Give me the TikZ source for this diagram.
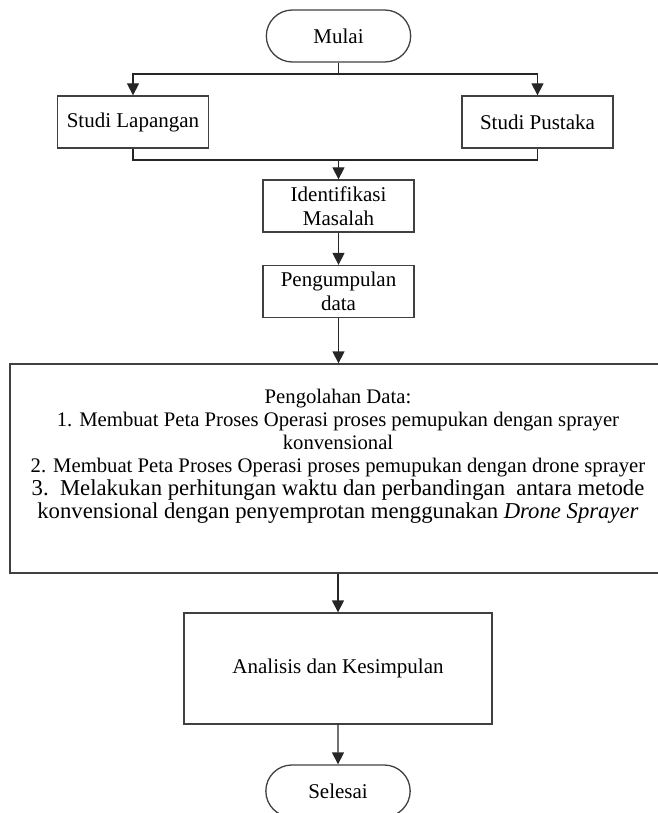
\documentclass[tikz,border=0pt]{standalone}
\usepackage{fontspec}
\setmainfont{Liberation Serif}
\usetikzlibrary{arrows.meta,positioning,shapes.misc}

\begin{document}
\begin{tikzpicture}[
    x=1pt, y=-1pt,
    garis/.style={draw=black!85, line width=1.3pt},
    panah/.style={garis, -{Triangle[width=12pt,length=12pt]}},
    terminal/.style={rounded rectangle, draw=black!75, line width=1.3pt, minimum width=151pt, minimum height=52pt, font=\fontsize{21}{24}\selectfont},
    proses/.style={rectangle, draw=black!75, line width=1.3pt, minimum width=151pt, minimum height=52pt, align=center, inner sep=0pt, font=\fontsize{21}{24}\selectfont}
]
\useasboundingbox (0,0) rectangle (657,813);

\node[terminal] (mulai) at (338.5,36) {Mulai};
\node[proses] (lapangan) at (133,122) {Studi Lapangan};
\node[proses] (pustaka) at (537.5,122) {Studi Pustaka};
\node[proses] (identifikasi) at (338.5,206) {Identifikasi\\Masalah};
\node[proses] (pengumpulan) at (338.5,291.5) {Pengumpulan\\data};
\node[proses, minimum width=656pt, minimum height=209pt] (pengolahan) at (338,468.5) {};
\node[align=center, inner sep=0pt, font=\fontsize{20.7}{23}\selectfont] (olahteks) at (338,456) {Pengolahan Data:\\
1. Membuat Peta Proses Operasi proses pemupukan dengan sprayer\\
konvensional\\
2. Membuat Peta Proses Operasi proses pemupukan dengan drone sprayer\\
{\fontsize{22.7}{25}\selectfont 3.\ \ Melakukan perhitungan waktu dan perbandingan\ \ antara metode}\\
{\fontsize{22.7}{25}\selectfont konvensional dengan penyemprotan menggunakan \textit{Drone Sprayer}}};
\node[proses, minimum width=308pt, minimum height=111pt] (analisis) at (338,668.5) {Analisis dan Kesimpulan};
\node[terminal] (selesai) at (338,791) {Selesai};

\coordinate (cabang) at (338.5,74);
\coordinate (gabung) at (338.5,160);

% percabangan ke studi
\draw[garis] (mulai.south) -- (cabang);
\draw[panah] (cabang) -| (lapangan.north);
\draw[panah] (cabang) -| (pustaka.north);
% penggabungan
\draw[garis] (lapangan.south) |- (gabung) -| (pustaka.south);
\draw[panah] (gabung) -- (identifikasi.north);
\draw[panah] (identifikasi) -- (pengumpulan);
\draw[panah] (pengumpulan) -- (pengolahan.north -| pengumpulan);
\draw[panah] (pengolahan.south -| analisis) -- (analisis);
\draw[panah] (analisis) -- (selesai);

\end{tikzpicture}
\end{document}
